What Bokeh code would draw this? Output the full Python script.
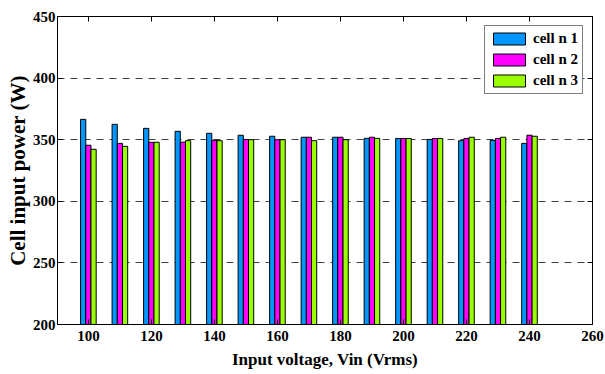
from bokeh.plotting import figure
from bokeh.models import (ColumnDataSource, Legend, LegendItem, LinearAxis, Range1d,
                          FixedTicker)
from bokeh.embed import file_html
from bokeh.resources import INLINE

# ---- data ----
voltages = [100, 110, 120, 130, 140, 150, 160, 170, 180, 190, 200, 210, 220, 230, 240]
cell1 = [366.5, 362.5, 359.2, 356.8, 355.2, 353.6, 352.8, 352.0, 352.0, 351.1, 351.0, 350.2, 349.2, 349.4, 347.0]
cell2 = [345.5, 347.0, 347.9, 348.0, 349.5, 350.2, 350.0, 352.0, 352.0, 352.0, 351.0, 351.0, 351.0, 351.0, 353.6]
cell3 = [342.2, 344.6, 347.9, 349.2, 349.2, 350.0, 350.0, 349.2, 350.0, 351.1, 351.0, 351.0, 352.0, 352.0, 352.8]
series_names = ["cell n 1", "cell n 2", "cell n 3"]
x_ticks = [100, 120, 140, 160, 180, 200, 220, 240, 260]
y_ticks = [200, 250, 300, 350, 400, 450]

colors = ["#0096FF", "#FF00FF", "#99FF00"]
bar_w = 1.65
offsets = [-1.65, 0.0, 1.65]

FONT = "'Liberation Serif', 'Times New Roman', serif"

p = figure(width=605, height=374, output_backend="svg", toolbar_location=None,
           x_range=Range1d(90.2, 260), y_range=Range1d(200, 450),
           min_border_left=57, min_border_right=13, min_border_top=16, min_border_bottom=50)
p.background_fill_color = "white"
p.border_fill_color = "white"
p.outline_line_color = "black"
p.outline_line_width = 1

# grid
p.xgrid.visible = False
p.ygrid.ticker = FixedTicker(ticks=[250, 300, 350, 400])
p.ygrid.grid_line_color = "#404040"
p.ygrid.grid_line_dash = "7 6"
p.ygrid.grid_line_width = 1

renderers = []
for vals, off, col, name in zip([cell1, cell2, cell3], offsets, colors, series_names):
    src = ColumnDataSource(dict(x=[v + off for v in voltages], top=vals))
    r = p.vbar(x="x", top="top", bottom=200, width=bar_w, source=src,
               fill_color=col, line_color="black", line_width=1)
    renderers.append((name, r))

# axes styling
for ax in [p.xaxis[0], p.yaxis[0]]:
    ax.major_tick_in = 5
    ax.major_tick_out = 0
    ax.minor_tick_line_color = None
    ax.axis_line_color = "black"
    ax.major_label_text_font = FONT
    ax.major_label_text_font_style = "bold"
    ax.major_label_text_font_size = "15px"
    ax.major_label_text_color = "black"
    ax.axis_label_text_font = FONT
    ax.axis_label_text_font_style = "bold"
    ax.axis_label_text_color = "black"

p.xaxis.axis_label_text_font_size = "17px"
p.yaxis.axis_label_text_font_size = "21px"
p.xaxis.ticker = FixedTicker(ticks=x_ticks)
p.yaxis.ticker = FixedTicker(ticks=y_ticks)
p.xaxis.axis_label = "Input voltage, Vin (Vrms)"
p.yaxis.axis_label = "Cell input power (W)"
p.xaxis.major_label_standoff = 6
p.yaxis.major_label_standoff = 2
p.xaxis.axis_label_standoff = 6
p.yaxis.axis_label_standoff = 0

# mirrored tick axes (top/right) without labels
top_ax = LinearAxis(ticker=FixedTicker(ticks=x_ticks), major_tick_in=5, major_tick_out=0,
                    minor_tick_line_color=None,
                    major_label_overrides={t: "" for t in x_ticks},
                    major_label_standoff=0, axis_line_color="black")
right_ax = LinearAxis(ticker=FixedTicker(ticks=y_ticks), major_tick_in=5, major_tick_out=0,
                      minor_tick_line_color=None,
                      major_label_overrides={t: "" for t in y_ticks},
                      major_label_standoff=0, axis_line_color="black")
p.add_layout(top_ax, "above")
p.add_layout(right_ax, "right")

legend = Legend(items=[LegendItem(label=n, renderers=[r]) for n, r in renderers],
                location="top_right")
legend.label_text_font = FONT
legend.label_text_font_style = "bold"
legend.label_text_font_size = "15px"
legend.label_text_color = "black"
legend.glyph_width = 40
legend.glyph_height = 15
legend.label_standoff = 4
legend.spacing = 4
legend.padding = 4
legend.margin = 9
legend.border_line_color = "black"
legend.border_line_width = 1
legend.background_fill_color = "white"
legend.background_fill_alpha = 1
p.add_layout(legend)

open("out.html", "w").write(file_html(p, INLINE))
